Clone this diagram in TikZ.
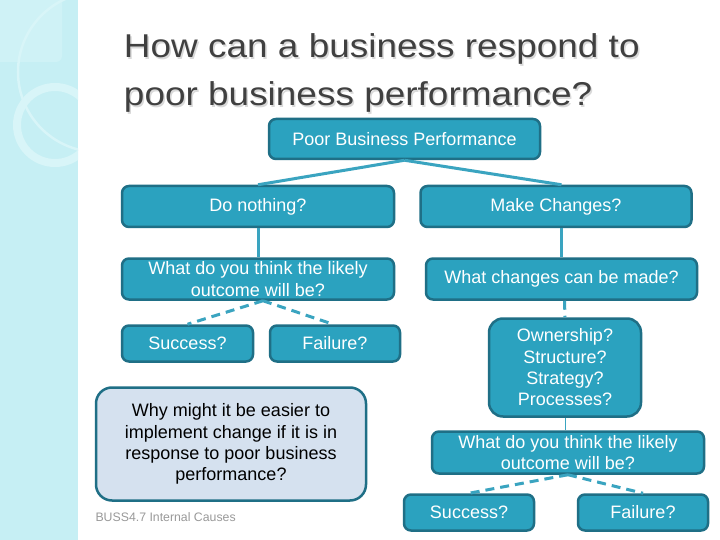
\documentclass[tikz,border=0pt]{standalone}
\usepackage{fontspec}
\setmainfont{Liberation Sans}
\definecolor{boxfill}{HTML}{2BA2BF}
\definecolor{boxline}{HTML}{1F6F86}
\definecolor{lightfill}{HTML}{D5E1EF}
\definecolor{linkcol}{HTML}{3AA4C0}
\definecolor{stripcol}{HTML}{C6EFF4}
\definecolor{ringcol}{HTML}{D8F5F8}
\definecolor{titlegray}{HTML}{404040}
\tikzset{
  box/.style={draw=boxline, fill=boxfill, line width=2.5pt, rounded corners=7pt,
    text=white, align=center, inner sep=0pt,
    font=\fontsize{18}{21.3}\selectfont},
  lightbox/.style={box, fill=lightfill, text=black, rounded corners=16pt},
  titletext/.style={anchor=base west, transform shape, xscale=1.12,
    font=\fontsize{33}{38}\selectfont},
  link/.style={draw=linkcol, line width=3pt},
  dlink/.style={link, dash pattern=on 9pt off 6pt}
}
\begin{document}
\begin{tikzpicture}[x=1pt, y=-1pt]
\useasboundingbox (0,0) rectangle (720,540);
\fill[white] (0,0) rectangle (720,540);

\begin{scope}
\clip (0,0) rectangle (78,540);
\fill[stripcol] (0,0) rectangle (78,540);
\fill[ringcol!50!stripcol, rounded corners=6pt] (-10,-10) rectangle (62,62);
\draw[ringcol, line width=2.5pt] (98,72) circle[radius=80];
\draw[ringcol, line width=8pt] (55,125) circle[radius=38];
\end{scope}

\node[titletext, text=black!15] at (121.5,59.5) {How can a business respond to};
\node[titletext, text=black!15] at (121.5,107.5) {poor business performance?};
\node (title1) [titletext, text=titlegray] at (120,58) {How can a business respond to};
\node (title2) [titletext, text=titlegray] at (120,106) {poor business performance?};

\node (pbp) [box, minimum width=271, minimum height=40] at (404.5,139) {Poor Business Performance};
\node (nothing) [box, minimum width=272, minimum height=41] at (258,206.5) {Do nothing?};
\node (changes) [box, minimum width=271, minimum height=41] at (556,206.5) {Make Changes?};
\node (outcomeL) [box, minimum width=272, minimum height=41] at (258,279) {What do you think the likely\\outcome will be?};
\node (whatchg) [box, minimum width=271, minimum height=41] at (561.5,279) {What changes can be made?};
\node (succL) [box, minimum width=131, minimum height=36] at (187.5,343.5) {Success?};
\node (failL) [box, minimum width=130, minimum height=36] at (335,343.5) {Failure?};
\node (whyeasier) [lightbox, minimum width=270, minimum height=113] at (231,444) {Why might it be easier to\\implement change if it is in\\response to poor business\\performance?};
\node (areas) [box, rounded corners=14pt, minimum width=152, minimum height=98] at (565,367.5) {Ownership?\\Structure?\\Strategy?\\Processes?};
\node (outcomeR) [box, minimum width=272, minimum height=42] at (568,452.5) {What do you think the likely\\outcome will be?};
\node (succR) [box, minimum width=130, minimum height=36] at (469,512.5) {Success?};
\node (failR) [box, minimum width=130, minimum height=36] at (643,512.5) {Failure?};

\node (footer) [anchor=west, text=black!40, font=\fontsize{12.3}{14}\selectfont] at (92,517) {BUSS4.7 Internal Causes};

\draw[link] (pbp.south) -- (nothing.north);
\draw[link] (pbp.south) -- (whatchg.north |- changes.north);
\draw[link] (nothing.south) -- (outcomeL.north);
\draw[link] (whatchg.north |- changes.south) -- (whatchg.north);
\draw[dlink] ([xshift=5pt]outcomeL.south) -- (succL.north);
\draw[dlink] ([xshift=5pt]outcomeL.south) -- ([xshift=-2pt]failL.north);
\draw[dlink] ([xshift=3pt]whatchg.south) -- (areas.north);
\draw[linkcol, line width=1pt] (areas.south) -- ([xshift=-3pt]outcomeR.north);
\draw[dlink] (outcomeR.south) -- (succR.north);
\draw[dlink] (outcomeR.south) -- (failR.north);
\end{tikzpicture}
\end{document}
